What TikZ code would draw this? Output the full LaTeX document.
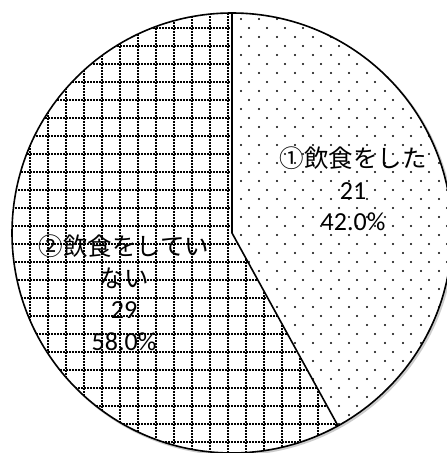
\documentclass[tikz,border=0pt]{standalone}
\usepackage{fontspec}
\setmainfont{Carlito}
\newfontfamily\jpfont{Noto Sans CJK JP}
\usetikzlibrary{calc}

\tikzset{
  slice border/.style={line width=1.6pt, black},
  grid line/.style={line width=1.3pt, dash pattern=on 1.7pt off 1.3pt},
  pie label/.style={align=center, font=\fontsize{26}{31.5}\selectfont, text=black},
}
\newcommand{\jp}[1]{{\jpfont\fontsize{24.5}{31.5}\selectfont #1}}

\begin{document}
\begin{tikzpicture}[x=1pt, y=1pt]
  \useasboundingbox (0,0) rectangle (447,453);
  \fill[white] (0,0) rectangle (447,453);
  \coordinate (O) at (232,220);
  \coordinate (top) at (232,440);
  \coordinate (cut) at ($(O)+(-61.2:220pt)$);

  % soft shadow
  \fill[black!20] (233.5,218.5) circle[radius=221pt];
  \fill[white] (O) circle[radius=220pt];

  % slice 1: dots
  \begin{scope}
    \clip (O) -- (top) arc[start angle=90, end angle=-61.2, radius=220pt] -- cycle;
    \foreach \k in {0,...,24} {
      \foreach \m in {12,...,25} {
        \fill (7+18*\m, 434-18*\k) circle[radius=1.2pt];
        \fill (15+18*\m, 425-18*\k) circle[radius=1.2pt];
      }
    }
  \end{scope}

  % slice 2: dotted grid
  \begin{scope}
    \clip (O) -- (cut) arc[start angle=-61.2, end angle=-270, radius=220pt] -- cycle;
    \foreach \k in {0,...,18} \draw[grid line] (12+18*\k, 0) -- (12+18*\k, 453);
    \foreach \k in {0,...,25} \draw[grid line] (0, 443-18*\k) -- (447, 443-18*\k);
  \end{scope}

  \draw[slice border] (top) -- (O) -- (cut);
  \draw[slice border] (O) circle[radius=220pt];

  \node[pie label] (lab1) at (353,264) {\jp{①飲食をした}\\21\\42.0\%};
  \node[pie label] (lab2) at (124,160.5) {\jp{②飲食をしてい}\\\jp{ない}\\29\\58.0\%};
\end{tikzpicture}
\end{document}
